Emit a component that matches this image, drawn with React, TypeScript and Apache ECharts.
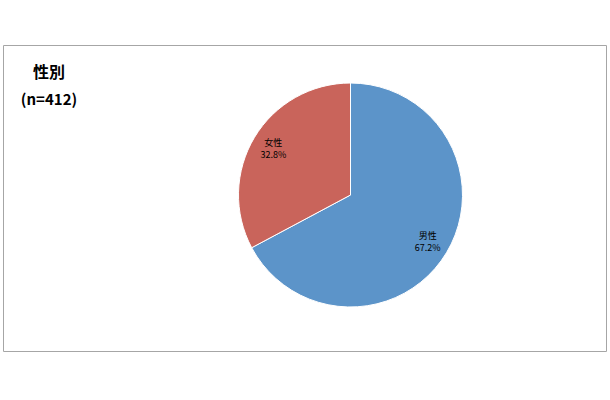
import React, { useEffect, useRef } from "react";
import * as echarts from "echarts";

// 性別の構成比 (n=412)
const categories = ["男性", "女性"];
const shares = [67.2, 32.8];
const colors = ["#5C94C9", "#C9645B"];
const titleText = "性別";
const sampleText = "(n=412)";

export default function App() {
  const ref = useRef<HTMLDivElement>(null);

  useEffect(() => {
    if (!ref.current) return;
    const chart = echarts.init(ref.current, undefined, { renderer: "svg" });
    const data = categories.map((name, i) => ({
      name,
      value: shares[i],
      itemStyle: { color: colors[i] },
    }));
    const font = '"Noto Sans CJK JP", "Noto Sans", sans-serif';
    chart.setOption({
      animation: false,
      backgroundColor: "#ffffff",
      graphic: [
        {
          type: "rect",
          shape: { x: 3.5, y: 45.5, width: 603, height: 306 },
          style: { fill: "none", stroke: "#a6a6a6", lineWidth: 1 },
          silent: true,
        },
        {
          type: "text",
          x: 49,
          y: 71,
          style: {
            text: titleText,
            font: `bold 16px ${font}`,
            fill: "#000",
            align: "center",
            verticalAlign: "middle",
          },
        },
        {
          type: "text",
          x: 49,
          y: 98,
          style: {
            text: sampleText,
            font: `bold 15px ${font}`,
            fill: "#000",
            align: "center",
            verticalAlign: "middle",
          },
        },
      ],
      series: [
        {
          type: "pie",
          center: [350.5, 195],
          radius: [0, 112],
          startAngle: 90,
          clockwise: true,
          label: { show: false },
          labelLine: { show: false },
          itemStyle: { borderColor: "#ffffff", borderWidth: 1 },
          emphasis: { disabled: true },
          data,
        },
        {
          // transparent ring that carries the labels at ~0.8 of the radius
          type: "pie",
          center: [350.5, 195],
          radius: [74, 100],
          startAngle: 90,
          clockwise: true,
          silent: true,
          itemStyle: { color: "rgba(0,0,0,0)" },
          emphasis: { disabled: true },
          labelLine: { show: false },
          label: {
            show: true,
            position: "inside",
            formatter: (p: any) => `${p.name}\n${p.value.toFixed(1)}%`,
            fontFamily: font,
            fontSize: 9,
            lineHeight: 12,
            color: "#000",
            align: "center",
          },
          data: categories.map((name, i) => ({ name, value: shares[i] })),
        },
      ],
    });
    return () => chart.dispose();
  }, []);

  return (
    <div
      ref={ref}
      style={{ position: "fixed", left: 0, top: 0, width: 610, height: 400 }}
    />
  );
}
